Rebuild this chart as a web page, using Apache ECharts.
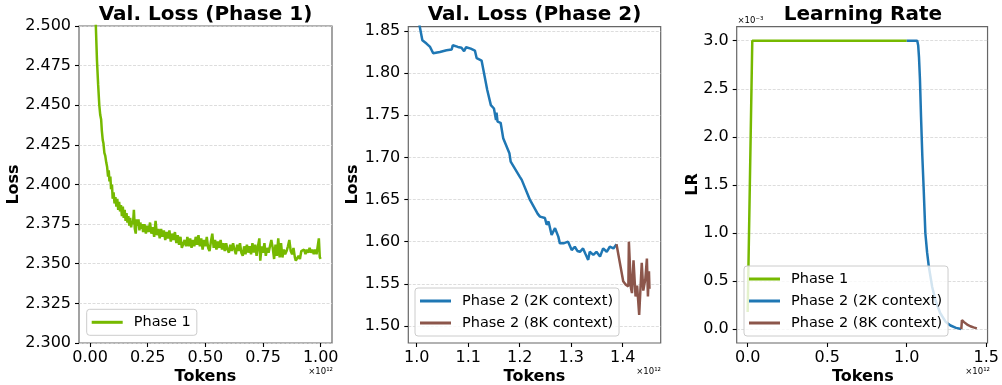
<!DOCTYPE html>
<html><head><meta charset="utf-8">
<script src="https://cdn.jsdelivr.net/npm/echarts@6/dist/echarts.min.js"></script>
<style>html,body{margin:0;padding:0;background:#fff}#c{width:1002px;height:385px}</style>
</head><body><div id="c"></div>
<script>
// ---- Data (tokens in units of 1e12, learning rate in units of 1e-3) ----
const p1X = [
  0.000,0.010,0.020,0.025,0.030,0.035,0.040,0.044,0.048,0.051,
  0.055,0.058,0.062,0.066,0.070,0.074,0.078,0.081,0.084,0.088,
  0.091,0.095,0.098,0.102,0.106,0.110,0.114,0.118,0.122,0.126,
  0.130,0.134,0.138,0.142,0.146,0.150,0.154,0.158,0.162,0.166,
  0.170,0.174,0.178,0.182,0.186,0.190,0.194,0.198,0.202,0.206,
  0.210,0.214,0.218,0.222,0.226,0.230,0.236,0.242,0.248,0.254,
  0.260,0.266,0.272,0.278,0.284,0.290,0.296,0.302,0.308,0.314,
  0.320,0.326,0.332,0.338,0.344,0.350,0.356,0.362,0.368,0.374,
  0.380,0.386,0.392,0.398,0.404,0.410,0.416,0.422,0.428,0.434,
  0.440,0.446,0.452,0.458,0.464,0.470,0.476,0.482,0.488,0.494,
  0.500,0.506,0.512,0.518,0.524,0.530,0.536,0.542,0.548,0.554,
  0.560,0.566,0.572,0.578,0.584,0.590,0.596,0.602,0.608,0.614,
  0.620,0.626,0.632,0.638,0.644,0.650,0.656,0.662,0.668,0.674,
  0.680,0.686,0.692,0.698,0.704,0.710,0.716,0.722,0.728,0.734,
  0.738,0.744,0.750,0.756,0.762,0.768,0.774,0.780,0.786,0.792,
  0.798,0.804,0.810,0.816,0.822,0.828,0.834,0.840,0.846,0.852,
  0.858,0.864,0.870,0.876,0.882,0.888,0.892,0.898,0.904,0.910,
  0.916,0.922,0.928,0.934,0.940,0.946,0.952,0.958,0.964,0.970,
  0.976,0.982,0.988,0.992,0.996,1.000];
const p1Y = [
  3.200,2.720,2.560,2.500,2.478,2.463,2.450,2.444,2.441,2.434,
  2.428,2.426,2.420,2.418,2.414,2.411,2.405,2.409,2.402,2.405,
  2.397,2.400,2.391,2.395,2.388,2.392,2.386,2.391,2.384,2.389,
  2.383,2.387,2.380,2.386,2.379,2.384,2.377,2.382,2.376,2.380,
  2.374,2.379,2.373,2.377,2.375,2.384,2.372,2.369,2.378,2.374,
  2.378,2.371,2.376,2.372,2.375,2.370,2.375,2.369,2.374,2.370,
  2.376,2.369,2.373,2.367,2.377,2.368,2.372,2.366,2.372,2.367,
  2.371,2.365,2.370,2.366,2.371,2.364,2.369,2.365,2.370,2.363,
  2.368,2.362,2.367,2.360,2.359,2.365,2.361,2.367,2.361,2.366,
  2.360,2.365,2.361,2.367,2.362,2.368,2.361,2.366,2.359,2.365,
  2.361,2.367,2.360,2.358,2.364,2.369,2.360,2.365,2.359,2.364,
  2.360,2.365,2.359,2.363,2.358,2.363,2.359,2.357,2.362,2.358,
  2.363,2.359,2.356,2.362,2.358,2.363,2.357,2.355,2.361,2.356,
  2.362,2.357,2.361,2.356,2.363,2.357,2.362,2.355,2.361,2.366,
  2.352,2.361,2.357,2.363,2.355,2.360,2.357,2.361,2.365,2.360,
  2.353,2.362,2.355,2.366,2.354,2.363,2.354,2.359,2.356,2.358,
  2.361,2.365,2.358,2.356,2.360,2.354,2.352,2.351,2.355,2.353,
  2.358,2.357,2.359,2.356,2.359,2.357,2.360,2.357,2.359,2.356,
  2.359,2.356,2.355,2.366,2.354,2.353];

const p2aX = [1.000,1.006,1.011,1.019,1.026,1.032,1.045,1.058,1.068,1.070,1.080,1.087,1.092,1.096,1.105,1.113,1.1165,1.126,1.137,1.144,1.150,1.154,1.155,1.157,1.163,1.168,1.180,1.1825,1.200,1.204,1.220,1.235,1.2394,1.249,1.2524,1.256,1.262,1.2686,1.275,1.278,1.285,1.294,1.301,1.307,1.312,1.317,1.323,1.328,1.333,1.336,1.343,1.349,1.356,1.362,1.369,1.375,1.382,1.388];
const p2aY = [1.880,1.855,1.839,1.835,1.831,1.8235,1.825,1.827,1.828,1.833,1.831,1.830,1.826,1.8307,1.829,1.8267,1.8176,1.8148,1.780,1.762,1.758,1.7444,1.753,1.7424,1.741,1.7227,1.705,1.695,1.6772,1.6733,1.6495,1.633,1.6297,1.628,1.620,1.624,1.608,1.616,1.606,1.598,1.598,1.600,1.590,1.594,1.589,1.588,1.592,1.585,1.5784,1.588,1.5843,1.588,1.5823,1.592,1.588,1.594,1.592,1.597];
const p2bX = [1.388,1.401,1.406,1.411,1.412,1.416,1.418,1.421,1.425,1.428,1.432,1.437,1.440,1.444,1.447,1.449,1.451,1.452];
const p2bY = [1.597,1.553,1.549,1.547,1.600,1.545,1.539,1.578,1.535,1.548,1.513,1.575,1.542,1.556,1.580,1.535,1.565,1.544];

const lrP1X = [0.000,0.029,1.000];
const lrP1Y = [0.18,3.00,3.00];
const lrP2aX = [1.000,1.066,1.072,1.077,1.083,1.090,1.098,1.106,1.117,1.128,1.139,1.160,1.181,1.210,1.244,1.275,1.310,1.343];
const lrP2aY = [3.00,3.00,2.95,2.83,2.60,2.20,1.80,1.48,1.00,0.80,0.65,0.44,0.30,0.17,0.08,0.04,0.015,0.003];
const lrP2bX = [1.343,1.347,1.360,1.380,1.400,1.420,1.441];
const lrP2bY = [0.003,0.097,0.075,0.050,0.032,0.020,0.010];

// ---- Tick values ----
const ticksX1 = [0, 0.25, 0.5, 0.75, 1.0];
const ticksY1 = [2.3, 2.325, 2.35, 2.375, 2.4, 2.425, 2.45, 2.475, 2.5];
const ticksX2 = [1.0, 1.1, 1.2, 1.3, 1.4];
const ticksY2 = [1.5, 1.55, 1.6, 1.65, 1.7, 1.75, 1.8, 1.85];
const ticksX3 = [0, 0.5, 1.0, 1.5];
const ticksY3 = [0, 0.5, 1.0, 1.5, 2.0, 2.5, 3.0];

const names = ['Phase 1', 'Phase 2 (2K context)', 'Phase 2 (8K context)'];
const colors = ['#76b900', '#1f77b4', '#8c564b'];

const FONT = '"DejaVu Sans", sans-serif';
const zip = (xs, ys) => xs.map((x, i) => [x, ys[i]]);

const grids = [
  {left: 79, width: 253, top: 26, height: 317},
  {left: 408.3, width: 252.4, top: 26.7, height: 316.3},
  {left: 736.7, width: 252.3, top: 26.7, height: 316.3}
];

function xAx(i, min, max, ticks, dec) {
  return {
    type: 'value', gridIndex: i, min: min, max: max,
    axisLine: {show: false, onZero: false},
    axisTick: {show: true, inside: false, length: 4, customValues: ticks, lineStyle: {color: '#000', width: 1.1}},
    axisLabel: {show: true, margin: 7, customValues: ticks, color: '#000', fontSize: 16, fontFamily: FONT,
      formatter: v => v.toFixed(dec)},
    splitLine: {show: false}
  };
}
function yAx(i, min, max, ticks, dec) {
  return {
    type: 'value', gridIndex: i, min: min, max: max,
    axisLine: {show: false, onZero: false},
    axisTick: {show: true, inside: false, length: 4, customValues: ticks, lineStyle: {color: '#000', width: 1.1}},
    axisLabel: {show: true, margin: 8, customValues: ticks, color: '#000', fontSize: 16, fontFamily: FONT,
      formatter: v => v.toFixed(dec)},
    splitLine: {show: true, lineStyle: {color: '#d4d4d4', width: 0.8, type: [3, 1.5]}}
  };
}
function ser(name, xi, xs, ys, ci) {
  return {
    type: 'line', name: name, xAxisIndex: xi, yAxisIndex: xi,
    data: zip(xs, ys), showSymbol: false, symbol: 'none', clip: true,
    lineStyle: {color: colors[ci], width: 2.5}, itemStyle: {color: colors[ci]},
    animation: false
  };
}
function leg(data, left, top) {
  return {
    data: data, orient: 'vertical', left: left, top: top,
    icon: 'path://M0 0H31V3H0Z', itemWidth: 31, itemHeight: 3, itemGap: 0,
    padding: [2, 6, 2, 5],
    backgroundColor: 'rgba(255,255,255,0.8)', borderColor: '#cccccc', borderWidth: 1, borderRadius: 3,
    selectedMode: false,
    textStyle: {fontSize: 14.5, color: '#000', fontFamily: FONT, lineHeight: 22, padding: [0, 0, 0, 6]}
  };
}
function txt(x, y, text, font, align, rot) {
  return {type: 'text', x: x, y: y, rotation: rot || 0, z: 10,
    style: {text: text, font: font, fill: '#000', align: align || 'center', verticalAlign: 'middle'}};
}

const option = {
  animation: false,
  backgroundColor: '#fff',
  grid: grids.map(g => Object.assign({show: true, borderColor: '#666', borderWidth: 1.2, backgroundColor: 'transparent'}, g)),
  xAxis: [
    xAx(0, -0.048, 1.049, ticksX1, 2),
    xAx(1, 0.9837, 1.4738, ticksX2, 1),
    xAx(2, -0.069, 1.508, ticksX3, 1)
  ],
  yAxis: [
    yAx(0, 2.3, 2.5, ticksY1, 3),
    yAx(1, 1.4798, 1.855, ticksY2, 2),
    yAx(2, -0.142, 3.146, ticksY3, 1)
  ],
  legend: [
    leg(['Phase 1'], 86.7, 309.3),
    leg(['Phase 2 (2K context)', 'Phase 2 (8K context)'], 415, 288),
    leg(names, 744, 266)
  ],
  series: [
    ser(names[0], 0, p1X, p1Y, 0),
    ser(names[1], 1, p2aX, p2aY, 1),
    ser(names[2], 1, p2bX, p2bY, 2),
    ser(names[0], 2, lrP1X, lrP1Y, 0),
    ser(names[1], 2, lrP2aX, lrP2aY, 1),
    ser(names[2], 2, lrP2bX, lrP2bY, 2)
  ],
  graphic: [
    txt(205.5, 15, 'Val. Loss (Phase 1)', 'bold 20px ' + FONT),
    txt(534.5, 15, 'Val. Loss (Phase 2)', 'bold 20px ' + FONT),
    txt(862.9, 15, 'Learning Rate', 'bold 20px ' + FONT),
    txt(205.5, 377, 'Tokens', 'bold 16px ' + FONT),
    txt(534.5, 377, 'Tokens', 'bold 16px ' + FONT),
    txt(862.9, 377, 'Tokens', 'bold 16px ' + FONT),
    txt(14, 184.5, 'Loss', 'bold 16px ' + FONT, 'center', Math.PI / 2),
    txt(352.5, 184.5, 'Loss', 'bold 16px ' + FONT, 'center', Math.PI / 2),
    txt(692.5, 184.5, 'LR', 'bold 16px ' + FONT, 'center', Math.PI / 2),
    txt(333, 372, '×10¹²', '8.5px ' + FONT, 'right'),
    txt(661, 372, '×10¹²', '8.5px ' + FONT, 'right'),
    txt(990, 372, '×10¹²', '8.5px ' + FONT, 'right'),
    txt(737.5, 21, '×10⁻³', '8.5px ' + FONT, 'left')
  ]
};

const chart = echarts.init(document.getElementById('c'), null, {renderer: 'canvas', width: 1002, height: 385});
chart.setOption(option);
</script>
</body></html>
